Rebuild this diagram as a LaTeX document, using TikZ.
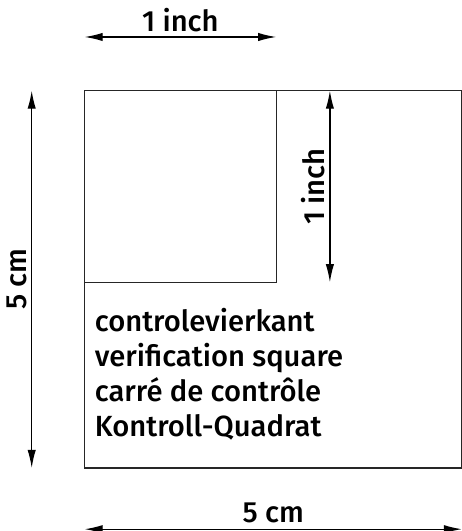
\documentclass[tikz,border=0pt]{standalone}
\usepackage{fontspec}
\setmainfont{Fira Sans}[UprightFont={* Medium}]
\usetikzlibrary{arrows.meta}

\begin{document}
\begin{tikzpicture}[
  dim/.style = {{Latex[length=2.4mm,width=1.1mm]}-{Latex[length=2.4mm,width=1.1mm]},
    line width=0.5pt},
  box/.style = {draw=black!85, line width=0.5pt},
  every node/.style = {font=\fontsize{11}{13}\selectfont, inner sep=1.5pt}]
  \useasboundingbox (-1.12,-0.834) rectangle (5.0,6.2);
  % squares
  \draw[box] (0,0) rectangle (5,5);
  \draw[box] (0,2.46) rectangle (2.54,5);
  % dimension ends
  \coordinate (inchL) at (0,5.71);
  \coordinate (inchR) at (2.54,5.71);
  \coordinate (cmT) at (-0.70,5);
  \coordinate (cmB) at (-0.70,0);
  \coordinate (inchT) at (3.25,5);
  \coordinate (inchB) at (3.25,2.46);
  \coordinate (cmL) at (0,-0.81);
  \coordinate (cmR) at (5,-0.81);
  \draw[dim] (inchL) -- node[above] (inchtop) {1 inch} (inchR);
  \draw[dim] (cmB) -- node[above, rotate=90] (cmleft) {5 cm} (cmT);
  \draw[dim] (inchB) -- node[above, rotate=90] (inchright) {1 inch} (inchT);
  \draw[dim] (cmL) -- node[above, inner sep=2pt] (cmbottom) {5 cm} (cmR);
  \node[anchor=north west, align=left, inner sep=0pt,
    font=\fontsize{11}{13.2}\selectfont] (names) at (0.13,2.13)
    {controlevierkant\\ verification square\\ carré de contrôle\\ Kontroll-Quadrat};
\end{tikzpicture}
\end{document}
